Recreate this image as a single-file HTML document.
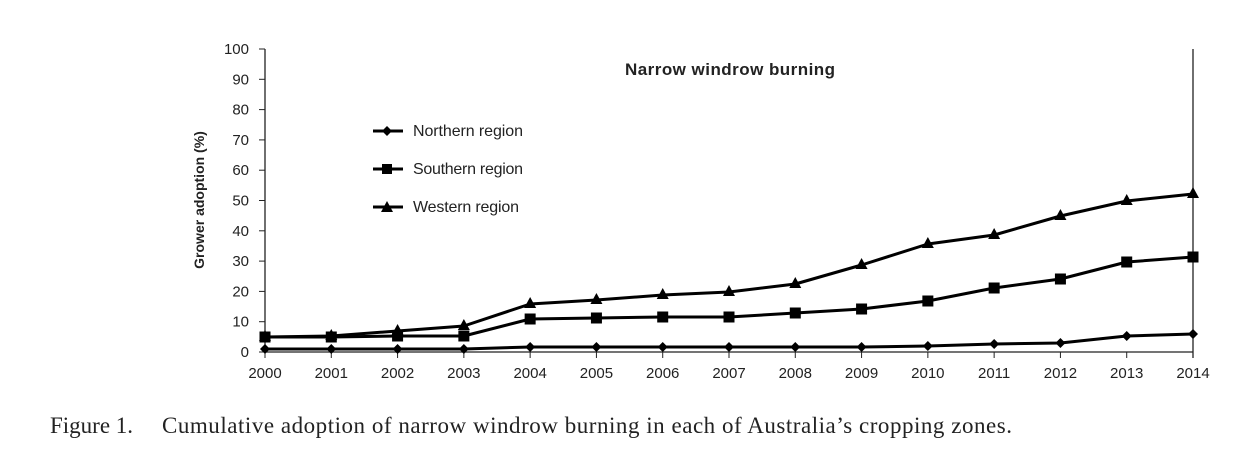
<!DOCTYPE html>
<html><head><meta charset="utf-8"><style>body{margin:0;background:#fff}</style></head><body>
<svg width="1257" height="461" xmlns="http://www.w3.org/2000/svg" style="display:block">
<g font-family="Liberation Sans, sans-serif" font-size="15" fill="#222">
<line x1="265" y1="49" x2="265" y2="352" stroke="#222" stroke-width="1.3"/>
<line x1="265" y1="352" x2="1193" y2="352" stroke="#222" stroke-width="1.3"/>
<line x1="1193" y1="49" x2="1193" y2="358" stroke="#222" stroke-width="1.3"/>
<g id="yt"></g><g id="xt"></g>
<text x="730" y="75" text-anchor="middle" font-weight="bold" font-size="17" textLength="210">Narrow windrow burning</text>
<text transform="translate(204,200) rotate(-90)" text-anchor="middle" font-weight="bold" font-size="14">Grower adoption (%)</text>
<g stroke="#000" stroke-width="3">
<line x1="373" y1="131" x2="403" y2="131"/><line x1="373" y1="169" x2="403" y2="169"/><line x1="373" y1="207" x2="403" y2="207"/></g>
<path d="M387 126 L392 131 L387 136 L382 131Z" fill="#000"/>
<rect x="382" y="164" width="10" height="10" fill="#000"/>
<path d="M387 201 L393 212 L381 212Z" fill="#000"/>
<text x="413" y="136" font-size="16" textLength="110">Northern region</text>
<text x="413" y="174" font-size="16" textLength="110">Southern region</text>
<text x="413" y="212" font-size="16" textLength="106">Western region</text>
<g id="series"></g>
</g>
<g font-family="Liberation Serif, serif" font-size="23" fill="#222">
<text x="50" y="433">Figure 1.</text>
<text x="162" y="433" textLength="850">Cumulative adoption of narrow windrow burning in each of Australia’s cropping zones.</text>
</g>
<script>
var ns="http://www.w3.org/2000/svg";
function el(p,t,a,tx){var e=document.createElementNS(ns,t);for(var k in a)e.setAttribute(k,a[k]);if(tx)e.textContent=tx;document.getElementById(p).appendChild(e);}
for(var i=0;i<=10;i++){var y=352-i*30.3;el("yt","line",{x1:259,y1:y,x2:265,y2:y,stroke:"#222"});el("yt","text",{x:249,y:y+5,"text-anchor":"end"},String(i*10));}
var sx=(1193-265)/14;
for(var i=0;i<15;i++){var x=265+i*sx;el("xt","line",{x1:x,y1:352,x2:x,y2:358,stroke:"#222"});el("xt","text",{x:x,y:378,"text-anchor":"middle"},String(2000+i));}
var N=[349,349,349,349,347,347,347,347,347,347,346,344,343,336,334];
var S=[337,337,336,336,319,318,317,317,313,309,301,288,279,262,257];
var W=[337,336,331,326,304,300,295,292,284,265,244,235,216,201,194];
[W,S,N].forEach(function(d,k){var p=d.map(function(y,i){return (265+i*sx)+","+y}).join(" ");
el("series","polyline",{points:p,fill:"none",stroke:"#000","stroke-width":3,"stroke-linejoin":"round"});
d.forEach(function(y,i){var x=265+i*sx;
if(k==0)el("series","path",{d:"M"+x+" "+(y-7)+" L"+(x+6)+" "+(y+4)+" L"+(x-6)+" "+(y+4)+"Z",fill:"#000"});
else if(k==1)el("series","rect",{x:x-5.5,y:y-5.5,width:11,height:11,fill:"#000"});
else el("series","path",{d:"M"+x+" "+(y-5)+" L"+(x+5)+" "+y+" L"+x+" "+(y+5)+" L"+(x-5)+" "+y+"Z",fill:"#000"});});});
</script>
</svg>
</body></html>
